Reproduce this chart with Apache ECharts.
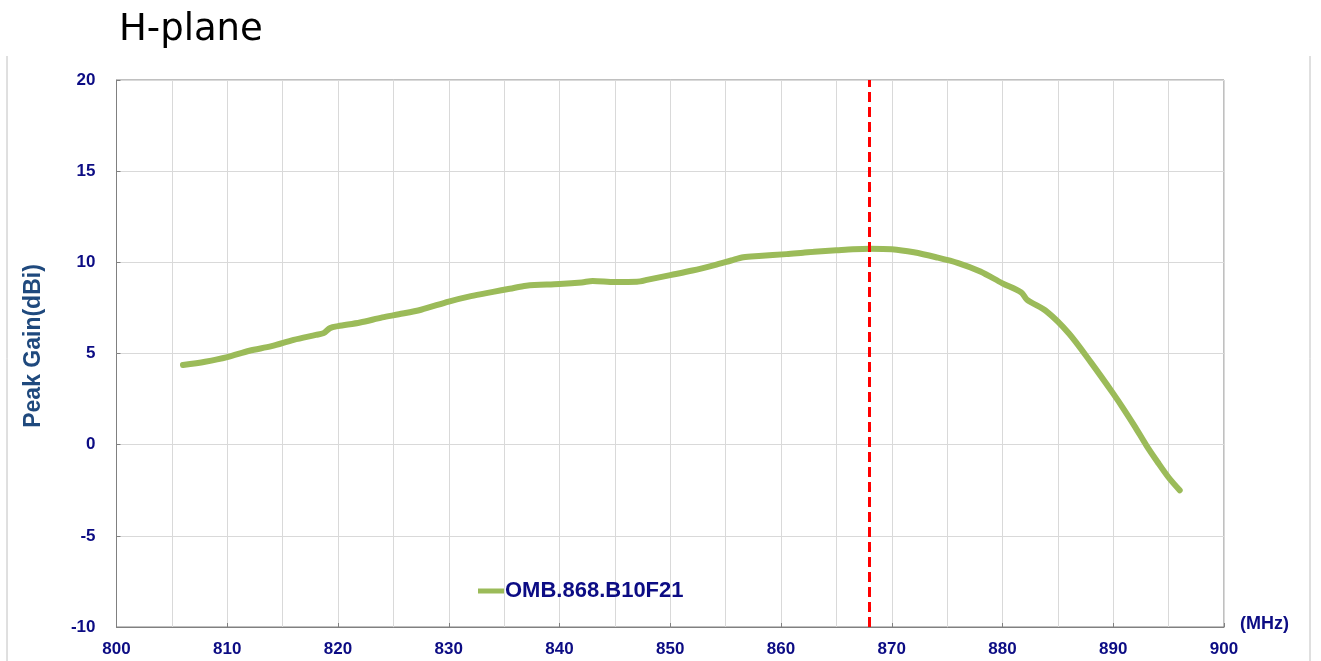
<!DOCTYPE html>
<html>
<head>
<meta charset="utf-8">
<script src="https://cdn.jsdelivr.net/npm/echarts@6/dist/echarts.min.js"></script>
<style>
html,body{margin:0;padding:0;background:#fff;}
#chart{width:1321px;height:661px;}
</style>
</head>
<body>
<div id="chart"></div>
<script>
const titleText = 'H-plane';
const seriesName = 'OMB.868.B10F21';
const yAxisName = 'Peak Gain(dBi)';
const xUnit = '(MHz)';
const markerFreq = 868;

const freqs = [806, 808, 810, 812, 814, 816, 818, 818.7, 819.3, 820, 822, 824, 825.5, 827.5, 830, 832, 834, 835.5, 837, 840, 842, 843, 845, 847, 848, 850, 852, 854, 855.5, 856.6, 858, 860.5, 862, 863, 865, 866.5, 868, 870, 872, 874, 876, 878, 880, 881.7, 882.2, 884, 886, 888, 890, 891, 892, 893, 894, 895, 896];
const gains = [4.37, 4.55, 4.8, 5.15, 5.4, 5.75, 6.02, 6.12, 6.4, 6.5, 6.7, 6.98, 7.15, 7.4, 7.85, 8.15, 8.38, 8.55, 8.72, 8.81, 8.9, 8.98, 8.92, 8.93, 9.05, 9.3, 9.55, 9.85, 10.1, 10.28, 10.35, 10.45, 10.53, 10.58, 10.66, 10.72, 10.75, 10.72, 10.55, 10.28, 9.96, 9.5, 8.85, 8.35, 7.96, 7.3, 6.1, 4.5, 2.8, 1.9, 0.95, -0.05, -0.95, -1.8, -2.5];

const yTicks = {min: -10, max: 20, interval: 5};
const xTicks = {min: 800, max: 900, interval: 10};

const data = freqs.map((f, i) => [f, gains[i]]);
const navy = '#0c0c84';

const chart = echarts.init(document.getElementById('chart'));
chart.setOption({
  animation: false,
  backgroundColor: '#fff',
  title: {
    text: titleText,
    left: 114, top: 7,
    textStyle: {fontFamily: 'DejaVu Sans', fontSize: 37, fontWeight: 'normal', color: '#000'}
  },
  legend: {
    left: 473, top: 575,
    icon: 'rect', itemWidth: 26, itemHeight: 5, itemGap: 4,
    textStyle: {fontFamily: 'Liberation Sans', fontSize: 22, fontWeight: 'bold', color: navy, padding: [0,0,0,-4]},
    data: [seriesName]
  },
  grid: {
    left: 116.5, right: 97, top: 80, bottom: 34,
    show: true, borderColor: '#808080', borderWidth: 1, containLabel: false
  },
  xAxis: {
    type: 'value', min: xTicks.min, max: xTicks.max, interval: xTicks.interval,
    axisLine: {show: true, onZero: false, lineStyle: {color: '#808080', width: 1}},
    axisTick: {show: true, inside: true, length: 4, lineStyle: {color: '#808080'}},
    axisLabel: {fontFamily: 'Liberation Sans', fontSize: 17, fontWeight: 'bold', color: navy, margin: 14},
    splitLine: {show: true, lineStyle: {color: '#d9d9d9', width: 1}},
    minorTick: {show: false, splitNumber: 2},
    minorSplitLine: {show: true, lineStyle: {color: '#d9d9d9', width: 1}}
  },
  yAxis: {
    type: 'value', min: yTicks.min, max: yTicks.max, interval: yTicks.interval,
    axisLine: {show: true, lineStyle: {color: '#808080', width: 1}},
    axisTick: {show: true, inside: true, length: 4, lineStyle: {color: '#808080'}},
    axisLabel: {fontFamily: 'Liberation Sans', fontSize: 17, fontWeight: 'bold', color: navy, margin: 21},
    splitLine: {show: true, lineStyle: {color: '#d9d9d9', width: 1}}
  },
  graphic: [
    {type: 'line', shape: {x1: 7, y1: 56, x2: 7, y2: 661}, style: {stroke: '#c0c0c0', lineWidth: 1}},
    {type: 'line', shape: {x1: 1310, y1: 56, x2: 1310, y2: 661}, style: {stroke: '#c0c0c0', lineWidth: 1}},
    {type: 'text', x: 34, y: 346, rotation: Math.PI / 2,
     style: {text: yAxisName, fontFamily: 'Liberation Sans', fontSize: 23, fontWeight: 'bold', fill: '#1F497D', align: 'center', verticalAlign: 'middle'}},
    {type: 'text', left: 1240, top: 615, style: {text: xUnit, fontFamily: 'Liberation Sans', fontSize: 18, fontWeight: 'bold', fill: navy}}
  ],
  series: [{
    name: seriesName,
    type: 'line',
    data: data,
    showSymbol: false,
    symbol: 'none',
    smooth: 0.3,
    lineStyle: {color: '#9BBB59', width: 6, cap: 'round', join: 'round'},
    itemStyle: {color: '#9BBB59'},
    markLine: {
      silent: true, symbol: ['none', 'none'],
      label: {show: false},
      lineStyle: {color: '#ff0000', type: [10, 5], width: 3},
      data: [{xAxis: markerFreq}]
    }
  }]
});
</script>
</body>
</html>
